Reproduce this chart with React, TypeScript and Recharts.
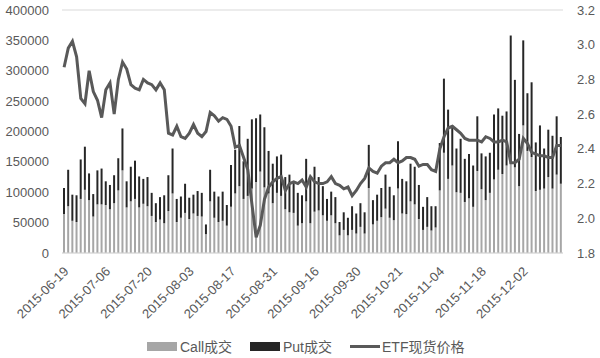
import React from 'react';
import { ComposedChart, Bar, Line, XAxis, YAxis, CartesianGrid } from 'recharts';

// trading days, 2015-06-19 .. 2015-12-15
const dates = [
  '2015-06-19', '2015-06-23', '2015-06-24', '2015-06-25', '2015-06-26', '2015-06-29', '2015-06-30', '2015-07-01', '2015-07-02', '2015-07-03',
  '2015-07-06', '2015-07-07', '2015-07-08', '2015-07-09', '2015-07-10', '2015-07-13', '2015-07-14', '2015-07-15', '2015-07-16', '2015-07-17',
  '2015-07-20', '2015-07-21', '2015-07-22', '2015-07-23', '2015-07-24', '2015-07-27', '2015-07-28', '2015-07-29', '2015-07-30', '2015-07-31',
  '2015-08-03', '2015-08-04', '2015-08-05', '2015-08-06', '2015-08-07', '2015-08-10', '2015-08-11', '2015-08-12', '2015-08-13', '2015-08-14',
  '2015-08-17', '2015-08-18', '2015-08-19', '2015-08-20', '2015-08-21', '2015-08-24', '2015-08-25', '2015-08-26', '2015-08-27', '2015-08-28',
  '2015-08-31', '2015-09-01', '2015-09-02', '2015-09-07', '2015-09-08', '2015-09-09', '2015-09-10', '2015-09-11', '2015-09-14', '2015-09-15',
  '2015-09-16', '2015-09-17', '2015-09-18', '2015-09-21', '2015-09-22', '2015-09-23', '2015-09-24', '2015-09-25', '2015-09-28', '2015-09-29',
  '2015-09-30', '2015-10-08', '2015-10-09', '2015-10-12', '2015-10-13', '2015-10-14', '2015-10-15', '2015-10-16', '2015-10-19', '2015-10-20',
  '2015-10-21', '2015-10-22', '2015-10-23', '2015-10-26', '2015-10-27', '2015-10-28', '2015-10-29', '2015-10-30', '2015-11-02', '2015-11-03',
  '2015-11-04', '2015-11-05', '2015-11-06', '2015-11-09', '2015-11-10', '2015-11-11', '2015-11-12', '2015-11-13', '2015-11-16', '2015-11-17',
  '2015-11-18', '2015-11-19', '2015-11-20', '2015-11-23', '2015-11-24', '2015-11-25', '2015-11-26', '2015-11-27', '2015-11-30', '2015-12-01',
  '2015-12-02', '2015-12-03', '2015-12-04', '2015-12-07', '2015-12-08', '2015-12-09', '2015-12-10', '2015-12-11', '2015-12-14', '2015-12-15',
];

const callVolume = [
  64000, 77000, 53000, 51000, 89000, 104000, 87000, 60000, 80000, 80000,
  79000, 72000, 82000, 103000, 136000, 75000, 85000, 89000, 75000, 81000,
  77000, 61000, 51000, 55000, 49000, 69000, 98000, 51000, 58000, 66000,
  56000, 65000, 61000, 60000, 31000, 85000, 58000, 51000, 53000, 45000,
  76000, 98000, 110000, 89000, 94000, 106000, 117000, 134000, 108000, 98000,
  82000, 99000, 94000, 72000, 67000, 66000, 45000, 49000, 85000, 49000,
  68000, 70000, 62000, 53000, 62000, 49000, 29000, 38000, 29000, 38000,
  32000, 43000, 32000, 107000, 47000, 53000, 59000, 73000, 58000, 54000,
  106000, 65000, 64000, 85000, 80000, 56000, 38000, 43000, 37000, 42000,
  103000, 165000, 122000, 144000, 100000, 99000, 84000, 90000, 76000, 135000,
  105000, 87000, 99000, 121000, 137000, 130000, 144000, 147000, 141000, 110000,
  210000, 168000, 158000, 102000, 104000, 106000, 125000, 106000, 129000, 114000,
];

const putVolume = [
  43000, 60000, 43000, 44000, 65000, 71000, 44000, 37000, 56000, 59000,
  39000, 40000, 46000, 53000, 69000, 43000, 57000, 63000, 51000, 41000,
  48000, 38000, 31000, 37000, 46000, 59000, 74000, 38000, 35000, 48000,
  35000, 31000, 41000, 39000, 16000, 52000, 43000, 42000, 48000, 34000,
  69000, 72000, 99000, 62000, 94000, 114000, 105000, 94000, 99000, 70000,
  65000, 60000, 68000, 53000, 62000, 49000, 54000, 46000, 70000, 72000,
  74000, 55000, 48000, 36000, 39000, 43000, 22000, 29000, 29000, 39000,
  33000, 39000, 35000, 71000, 40000, 43000, 48000, 56000, 51000, 41000,
  78000, 57000, 54000, 62000, 62000, 56000, 38000, 49000, 40000, 35000,
  78000, 122000, 114000, 66000, 72000, 89000, 71000, 73000, 68000, 90000,
  59000, 72000, 66000, 107000, 101000, 96000, 89000, 211000, 144000, 86000,
  140000, 95000, 123000, 80000, 106000, 66000, 78000, 87000, 96000, 77000,
];

const etfPrice = [
  2.87, 2.98, 3.02, 2.93, 2.69, 2.66, 2.85, 2.73, 2.68, 2.58,
  2.74, 2.78, 2.60, 2.80, 2.90, 2.86, 2.77, 2.75, 2.74, 2.80,
  2.78, 2.77, 2.74, 2.78, 2.74, 2.49, 2.48, 2.53, 2.47, 2.46,
  2.49, 2.54, 2.49, 2.47, 2.50, 2.61, 2.59, 2.56, 2.58, 2.57,
  2.53, 2.41, 2.42, 2.35, 2.28, 2.08, 1.89, 1.96, 2.11, 2.18,
  2.21, 2.23, 2.24, 2.16, 2.20, 2.21, 2.20, 2.22, 2.18, 2.24,
  2.21, 2.20, 2.20, 2.21, 2.24, 2.20, 2.19, 2.17, 2.18, 2.13,
  2.16, 2.20, 2.23, 2.29, 2.27, 2.26, 2.30, 2.32, 2.32, 2.34,
  2.32, 2.33, 2.35, 2.35, 2.34, 2.30, 2.31, 2.31, 2.28, 2.27,
  2.40, 2.47, 2.52, 2.53, 2.51, 2.49, 2.46, 2.45, 2.45, 2.45,
  2.44, 2.47, 2.46, 2.44, 2.44, 2.45, 2.44, 2.32, 2.32, 2.34,
  2.46, 2.43, 2.38, 2.37, 2.36, 2.36, 2.35, 2.35, 2.42, 2.42,
];

const volumeTicks = [0, 50000, 100000, 150000, 200000, 250000, 300000, 350000, 400000];
const priceTicks = [1.8, 2.0, 2.2, 2.4, 2.6, 2.8, 3.0, 3.2];

const data = dates.map((date, i) => ({
  date,
  call: callVolume[i],
  put: putVolume[i],
  etf: etfPrice[i],
}));

const FONT = '"Liberation Sans", "Noto Sans CJK SC", sans-serif';
const TEXT = '#595959';

const DateTick = ({ x, y, payload }: any) => {
  const ax = x + 2;
  const ay = y + 8;
  return (
    <text
      x={ax}
      y={ay}
      dy="0.35em"
      textAnchor="end"
      transform={`rotate(-45 ${ax} ${ay})`}
      fontSize={13}
      fill={TEXT}
      fontFamily={FONT}
    >
      {payload.value}
    </text>
  );
};

const legendText: React.CSSProperties = {
  position: 'absolute',
  top: 338,
  fontSize: 14,
  lineHeight: '18px',
  color: TEXT,
  fontFamily: FONT,
  whiteSpace: 'nowrap',
};

export default function App() {
  return (
    <div style={{ position: 'absolute', left: 0, top: 0, width: 600, height: 358, background: '#fff' }}>
      <ComposedChart
        width={600}
        height={358}
        data={data}
        margin={{ top: 10, right: 0, bottom: 0, left: 0 }}
        barCategoryGap={0}
        style={{ fontFamily: FONT }}
      >
        <CartesianGrid vertical={false} stroke="#d9d9d9" />
        <XAxis
          dataKey="date"
          interval={9}
          height={105}
          tickLine={false}
          axisLine={{ stroke: '#d9d9d9' }}
          tick={<DateTick />}
        />
        <YAxis
          yAxisId="vol"
          width={62}
          domain={[0, 400000]}
          ticks={volumeTicks}
          axisLine={false}
          tickLine={false}
          tickMargin={7}
          tick={{ fontSize: 13, fill: TEXT, fontFamily: FONT }}
        />
        <YAxis
          yAxisId="price"
          orientation="right"
          width={37}
          domain={[1.8, 3.2]}
          ticks={priceTicks}
          tickFormatter={(v: number) => v.toFixed(1)}
          axisLine={false}
          tickLine={false}
          tickMargin={8}
          tick={{ fontSize: 13, fill: TEXT, fontFamily: FONT }}
        />
        <Bar yAxisId="vol" dataKey="call" stackId="v" fill="#a6a6a6" barSize={2} isAnimationActive={false} />
        <Bar yAxisId="vol" dataKey="put" stackId="v" fill="#262626" barSize={2} isAnimationActive={false} />
        <Line
          yAxisId="price"
          dataKey="etf"
          type="linear"
          stroke="#595959"
          strokeWidth={3}
          dot={false}
          isAnimationActive={false}
        />
      </ComposedChart>

      {/* legend */}
      <div style={{ position: 'absolute', left: 147, top: 342, width: 30, height: 9, background: '#a6a6a6' }} />
      <div style={{ ...legendText, left: 180 }}>Call成交</div>
      <div style={{ position: 'absolute', left: 250, top: 342, width: 30, height: 9, background: '#262626' }} />
      <div style={{ ...legendText, left: 283 }}>Put成交</div>
      <div style={{ position: 'absolute', left: 350, top: 345, width: 30, height: 3, background: '#595959' }} />
      <div style={{ ...legendText, left: 382 }}>ETF现货价格</div>
    </div>
  );
}
